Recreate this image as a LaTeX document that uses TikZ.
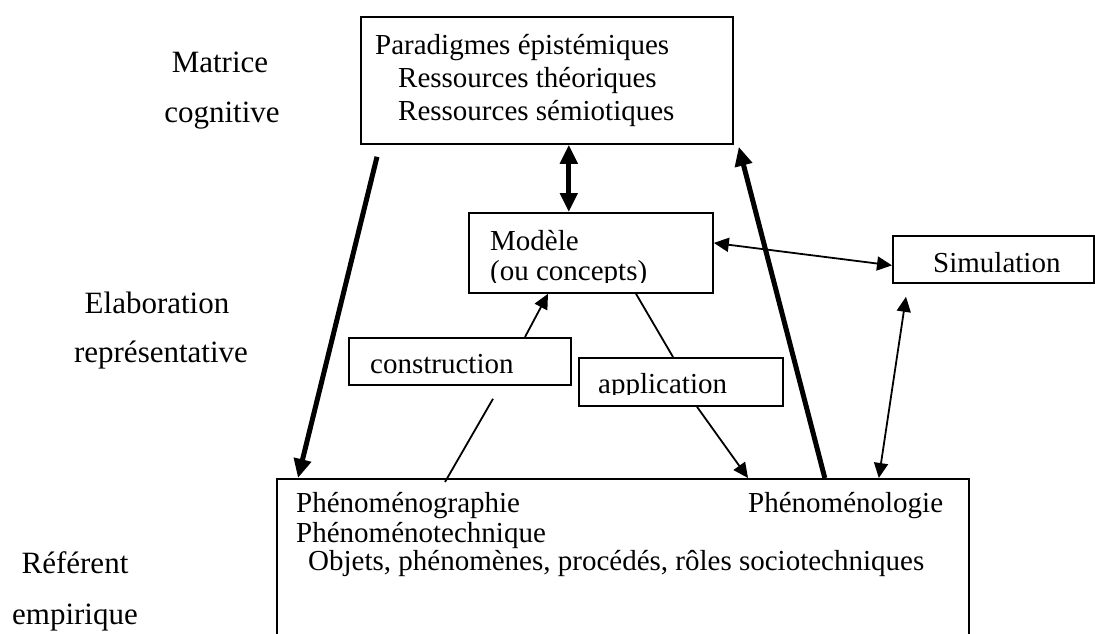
\documentclass[tikz,border=0pt]{standalone}
\usepackage{fontspec}
\setmainfont{Liberation Serif}
\usetikzlibrary{calc,arrows.meta}

\tikzset{
  box/.style={draw,line width=1.8pt,inner sep=0pt,anchor=north west},
  txt/.style={anchor=base west,inner sep=0pt,font=\fontsize{29}{33}\selectfont},
  side/.style={anchor=base,inner sep=0pt,font=\fontsize{31}{35}\selectfont},
  link/.style={line width=1.8pt},
  heavy/.style={line width=5pt},
  tip/.style={-{Triangle[length=15pt,width=14pt]}},
  tips/.style={{Triangle[length=15pt,width=14pt]}-{Triangle[length=15pt,width=14pt]}},
  bigtip/.style={-{Triangle[length=19pt,width=17pt]}},
  bigtips/.style={{Triangle[length=19pt,width=17pt]}-{Triangle[length=19pt,width=17pt]}}
}

\begin{document}
\begin{tikzpicture}[x=1pt,y=-1pt]
  \clip (0,0) rectangle (1095,634);
  \fill[white] (0,0) rectangle (1095,634);

  % side labels
  \node[side] (lmatrice) at (220,73) {Matrice};
  \node[side] (lcognitive) at (222,122) {cognitive};
  \node[side] (lelab) at (157,313) {Elaboration};
  \node[side] (lrepr) at (161,362) {représentative};
  \node[side] (lref) at (75,573) {Référent};
  \node[side] (lemp) at (75,624) {empirique};

  % boxes
  \node[box,minimum width=372pt,minimum height=127pt] (matrice) at (360,16) {};
  \node[box,minimum width=244pt,minimum height=80pt] (modele) at (468,212) {};
  \node[box,minimum width=201pt,minimum height=47pt] (simulation) at (892,235) {};
  \node[box,minimum width=222pt,minimum height=47pt] (construction) at (348,337) {};
  \node[box,minimum width=204pt,minimum height=48pt] (application) at (578,357) {};
  \node[box,minimum width=692pt,minimum height=200pt] (referent) at (276,478) {};

  % texts
  \node[txt] (paradigmes) at ($(matrice.north west)+(15,39)$) {Paradigmes épistémiques};
  \node[txt] (theoriques) at ($(matrice.north west)+(38,72)$) {Ressources théoriques};
  \node[txt] (semiotiques) at ($(matrice.north west)+(38,104)$) {Ressources sémiotiques};
  \node[txt] (tmodele) at ($(modele.north west)+(22,38)$) {Modèle};
  \begin{scope}
    \clip (modele.north west) rectangle ($(modele.east)+(0,30)$);
    \node[txt] (concepts) at ($(modele.north west)+(22,68)$) {(ou concepts)};
  \end{scope}
  \node[txt] (tsimulation) at ($(simulation.north west)+(41,37)$) {Simulation};
  \node[txt] (tconstruction) at ($(construction.north west)+(22,36)$) {construction};
  \begin{scope}
    \clip (application.north west) rectangle ($(application.east)+(0,13)$);
    \node[txt] (tapplication) at ($(application.north west)+(20,36)$) {application};
  \end{scope}
  \node[txt] (graphie) at ($(referent.north west)+(20,34)$) {Phénoménographie};
  \node[txt] (technique) at ($(referent.north west)+(20,64)$) {Phénoménotechnique};
  \node[txt] (objets) at ($(referent.north west)+(32,92)$) {Objets, phénomènes, procédés, rôles sociotechniques};
  \node[txt] (logie) at ($(referent.north west)+(472,34)$) {Phénoménologie};

  % connectors
  \coordinate (mtop) at ($(modele.north west)!0.41!(modele.north east)$);
  \draw[heavy,bigtips] (mtop |- matrice.south) -- (mtop);
  \draw[heavy,bigtip] ($(matrice.south west)+(17,12)$) -- ($(referent.north west)+(22,0)$);
  \draw[heavy,bigtip] ($(referent.north east)+(-145,0)$) -- ($(matrice.south east)+(5,2)$);
  \draw[link,tips] ($(modele.east)+(0,-10)$) -- ($(simulation.west)+(0,6)$);
  \draw[link,tips] ($(simulation.south west)+(14,13)$) -- ($(referent.north east)+(-91,0)$);
  \draw[link] ($(referent.north west)+(169,4)$) -- ($(construction.south west)+(145,13)$);
  \draw[link,tip] ($(construction.north west)+(177,0)$) -- ($(modele.south west)+(80,0)$);
  \draw[link] ($(modele.south west)+(168,0)$) -- ($(application.north west)+(95,0)$);
  \draw[link,tip] ($(application.south west)+(119,0)$) -- ($(referent.north west)+(472,0)$);
\end{tikzpicture}
\end{document}
